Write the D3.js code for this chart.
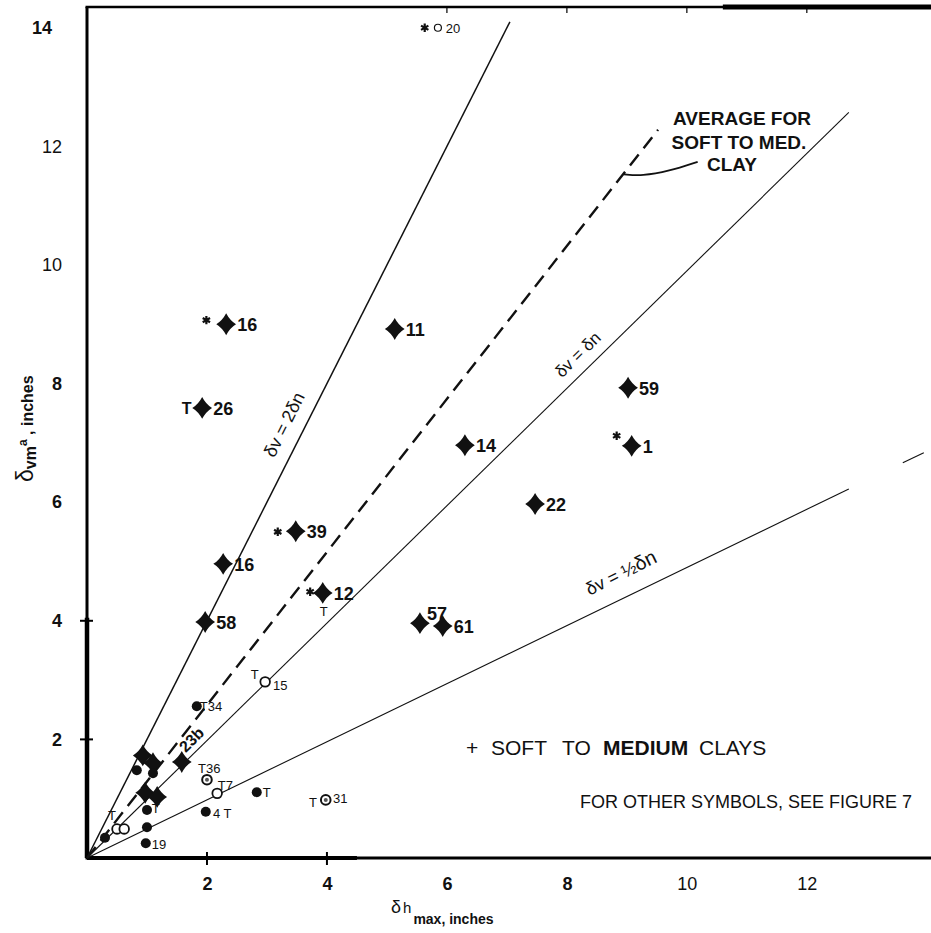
<!DOCTYPE html>
<html>
<head>
<meta charset="utf-8">
<script src="https://cdn.jsdelivr.net/npm/d3@7"></script>
<style>
  body { margin: 0; background: #fff; }
  svg text { font-family: "Liberation Sans", Arial, sans-serif; fill: #111; }
</style>
</head>
<body>
<div id="chart"></div>
<script>
// ---------------------------//
//   VALUES   //
// ---------------------------//

var xTicks = [2, 4, 6, 8, 10, 12];
var yTicks = [2, 4, 6, 8, 10, 12, 14];
var xAxisMarks = [2, 4];
var yAxisMarks = [2, 4];
var topMarks = [6, 8, 10, 12];

// soft to medium clays (+): [dh max, dv max, case no.]
var clays = [
  [2.32, 9.00, "16"], [5.13, 8.92, "11"], [1.92, 7.59, "26"],
  [9.02, 7.93, "59"], [6.30, 6.96, "14"], [9.08, 6.95, "1"],
  [7.47, 5.97, "22"], [3.48, 5.51, "39"], [2.27, 4.96, "16"],
  [3.93, 4.47, "12"], [1.97, 3.98, "58"], [5.55, 3.96, "57"],
  [5.93, 3.91, "61"], [1.58, 1.62, ""], [0.93, 1.73, ""],
  [1.10, 1.60, ""], [0.97, 1.10, ""], [1.17, 1.03, ""]
];

// other symbols (see figure 7)
var asterisks = [[1.99, 9.07], [3.18, 5.50], [3.72, 4.49], [8.83, 7.12], [5.63, 14.0]];
var dots = [[1.83, 2.56], [2.83, 1.11], [1.98, 0.78], [0.98, 0.25], [1.00, 0.52],
            [1.00, 0.81], [0.83, 1.48], [1.10, 1.43], [0.30, 0.34]];
var rings = [[2.97, 2.97], [2.17, 1.09], [0.50, 0.49], [0.62, 0.49]];
var smallRings = [[5.85, 14.0]];
var halfRings = [[2.00, 1.32], [3.98, 0.98]];

// small lettering next to the symbols: [dh, dv, text]
var notes = [
  [3.88, 4.08, "T"], [2.73, 3.02, "T"], [3.10, 2.83, "15"],
  [1.88, 2.48, "T34"], [1.85, 1.43, "T36"], [2.18, 1.15, "T7"],
  [2.93, 1.03, "T"], [2.10, 0.67, "4 T"], [3.70, 0.86, "T"],
  [4.10, 0.93, "31"], [1.08, 0.76, "T"], [0.35, 0.64, "T"],
  [1.08, 0.15, "19"], [5.98, 13.91, "20"]
];
var boldNotes = [[1.58, 7.49, "T"]];

// reference lines: [slope, dh start, dh end]
var refLines = [[2.0, 0, 7.05], [0.99, 0, 12.7], [0.49, 0, 12.7], [0.49, 13.6, 13.95]];
var avgLine = [1.29, 0, 9.52];
var leader = [[8.95, 11.53], [9.25, 11.50], [9.70, 11.58], [10.18, 11.74]];

// ---------------------------//
//       AXIS  AND SCALE      //
// ---------------------------//

var svg = d3.select("#chart").append("svg")
  .attr("width", 931).attr("height", 933);

var x = d3.scaleLinear().domain([0, 14.07]).range([87, 931]);
var y = d3.scaleLinear().domain([0, 14.35]).range([858, 7]);

// frame: left axis, bottom axis, top border
svg.append("line").attr("x1", x(0)).attr("x2", x(0)).attr("y1", y(14.35)).attr("y2", y(0))
  .attr("stroke", "#000").attr("stroke-width", 3);
svg.append("line").attr("x1", x(0)).attr("x2", x(0)).attr("y1", y(4.05)).attr("y2", y(0))
  .attr("stroke", "#000").attr("stroke-width", 4.5);
svg.append("line").attr("x1", x(0) - 1.5).attr("x2", x(14.07)).attr("y1", y(0)).attr("y2", y(0))
  .attr("stroke", "#000").attr("stroke-width", 3);
svg.append("line").attr("x1", x(0)).attr("x2", x(4.5)).attr("y1", y(0)).attr("y2", y(0))
  .attr("stroke", "#000").attr("stroke-width", 4);
svg.append("line").attr("x1", x(0) - 1.5).attr("x2", x(14.07)).attr("y1", y(14.35)).attr("y2", y(14.35))
  .attr("stroke", "#000").attr("stroke-width", 2.5);
svg.append("line").attr("x1", x(10.6)).attr("x2", x(14.07)).attr("y1", y(14.35)).attr("y2", y(14.35))
  .attr("stroke", "#000").attr("stroke-width", 5);

svg.selectAll(".xmark").data(xAxisMarks).enter().append("line")
  .attr("x1", function(d) { return x(d); }).attr("x2", function(d) { return x(d); })
  .attr("y1", y(0) - 6).attr("y2", y(0) + 7)
  .attr("stroke", "#000").attr("stroke-width", 2);
svg.selectAll(".ymark").data(yAxisMarks).enter().append("line")
  .attr("x1", x(0) - 7).attr("x2", x(0) + 6)
  .attr("y1", function(d) { return y(d); }).attr("y2", function(d) { return y(d); })
  .attr("stroke", "#000").attr("stroke-width", 2);
svg.selectAll(".tmark").data(topMarks).enter().append("line")
  .attr("x1", function(d) { return x(d); }).attr("x2", function(d) { return x(d); })
  .attr("y1", y(14.35)).attr("y2", y(14.35) + 6)
  .attr("stroke", "#000").attr("stroke-width", 1.2);

// tick labels through d3 axes, domain path removed
var xAxis = svg.append("g").attr("transform", "translate(0," + y(0) + ")")
  .call(d3.axisBottom(x).tickValues(xTicks).tickSize(0).tickPadding(19));
var yAxis = svg.append("g").attr("transform", "translate(" + x(0) + ",0)")
  .call(d3.axisLeft(y).tickValues(yTicks).tickSize(0).tickPadding(25));
[xAxis, yAxis].forEach(function(g) {
  g.select(".domain").remove();
  g.selectAll("text")
    .style("font-size", "18px")
    .style("font-family", "'Liberation Sans', Arial, sans-serif")
    .style("font-weight", function(d) { return (d === 10 || d === 12) ? "normal" : "bold"; })
    .attr("fill", "#111");
});
yAxis.selectAll("text").filter(function(d) { return d === 14; }).attr("dx", -10);

// axis titles
var xt = svg.append("text").attr("x", 391).attr("y", 913).style("font-size", "18px");
xt.append("tspan").text("δ");
xt.append("tspan").attr("dx", 2).style("font-size", "15px").text("h");
xt.append("tspan").attr("dy", 11).attr("dx", 2).style("font-size", "14px").style("font-weight", "bold").text("max, inches");

var yt = svg.append("text").attr("transform", "translate(33,482) rotate(-90)").style("font-size", "23px");
yt.append("tspan").text("δ");
yt.append("tspan").attr("dy", 3).style("font-size", "16px").style("font-weight", "bold").text("v");
yt.append("tspan").style("font-size", "16px").style("font-weight", "bold").text("m");
yt.append("tspan").attr("dy", -9).style("font-size", "12px").style("font-weight", "bold").text("a");
yt.append("tspan").attr("dy", 6).style("font-size", "16px").style("font-weight", "bold").text(" , inches");

// ---------------------------//
//       REFERENCE LINES      //
// ---------------------------//

svg.selectAll(".ref").data(refLines).enter().append("line")
  .attr("x1", function(d) { return x(d[1]); }).attr("y1", function(d) { return y(d[0] * d[1]); })
  .attr("x2", function(d) { return x(d[2]); }).attr("y2", function(d) { return y(d[0] * d[2]); })
  .attr("stroke", "#111")
  .attr("stroke-width", function(d, i) { return i === 0 ? 1.5 : 1.1; });

svg.append("line")
  .attr("x1", x(avgLine[1])).attr("y1", y(avgLine[0] * avgLine[1]))
  .attr("x2", x(avgLine[2])).attr("y2", y(avgLine[0] * avgLine[2]))
  .attr("stroke", "#111").attr("stroke-width", 2.4)
  .attr("stroke-dasharray", "14,8");

svg.append("path")
  .attr("d", d3.line().x(function(d) { return x(d[0]); }).y(function(d) { return y(d[1]); })
    .curve(d3.curveBasis)(leader))
  .attr("fill", "none").attr("stroke", "#111").attr("stroke-width", 1.8);

// rotated line captions
function caption(h, v, ang, parts) {
  var t = svg.append("text")
    .attr("transform", "translate(" + x(h) + "," + y(v) + ") rotate(" + ang + ")")
    .attr("text-anchor", "middle").style("font-size", "17px");
  parts.forEach(function(p) {
    t.append("tspan").attr("dy", p[1]).style("font-size", p[2]).text(p[0]);
  });
}
caption(3.38, 7.26, -63.5, [["δv = 2δn", 0, "18px"]]);
caption(8.25, 8.42, -44.7, [["δv = δn", 0, "17px"]]);
caption(8.95, 4.71, -26.3, [["δv = ", 0, "18px"], ["½", 0, "18px"], ["δn", 0, "20px"]]);

svg.append("text")
  .attr("transform", "translate(" + x(1.75) + "," + y(1.99) + ") rotate(-45)")
  .attr("text-anchor", "middle").attr("dy", 5)
  .style("font-size", "16px").style("font-weight", "bold").text("23b");

// ---------------------------//
//       SYMBOLS              //
// ---------------------------//

var clayStar = {
  draw: function(ctx, size) {
    var r = Math.sqrt(size), w = r * 0.9, k = r * 0.34;
    ctx.moveTo(0, -r);
    ctx.quadraticCurveTo(k, -k, w, 0);
    ctx.quadraticCurveTo(k, k, 0, r);
    ctx.quadraticCurveTo(-k, k, -w, 0);
    ctx.quadraticCurveTo(-k, -k, 0, -r);
    ctx.closePath();
  }
};
var asteriskShape = {
  draw: function(ctx, size) {
    var r = Math.sqrt(size);
    for (var a = 0; a < 3; a++) {
      var t = Math.PI / 2 + a * Math.PI / 3;
      ctx.moveTo(-r * Math.cos(t), -r * Math.sin(t));
      ctx.lineTo(r * Math.cos(t), r * Math.sin(t));
    }
  }
};

svg.selectAll(".clay").data(clays).enter().append("path")
  .attr("transform", function(d) { return "translate(" + x(d[0]) + "," + y(d[1]) + ")"; })
  .attr("d", d3.symbol().type(clayStar).size(120))
  .attr("fill", "#111");

svg.selectAll(".claylab").data(clays.filter(function(d) { return d[2]; })).enter().append("text")
  .attr("x", function(d) { return x(d[0]) + (d[2] === "57" ? 7 : 11); })
  .attr("y", function(d) { return y(d[1]) + (d[2] === "57" ? -3 : 7); })
  .style("font-size", "18px").style("font-weight", "bold")
  .text(function(d) { return d[2]; });

svg.selectAll(".ast").data(asterisks).enter().append("path")
  .attr("transform", function(d) { return "translate(" + x(d[0]) + "," + y(d[1]) + ")"; })
  .attr("d", d3.symbol().type(asteriskShape).size(18))
  .attr("stroke", "#111").attr("stroke-width", 2.2).attr("fill", "none");

svg.selectAll(".dot").data(dots).enter().append("circle")
  .attr("cx", function(d) { return x(d[0]); }).attr("cy", function(d) { return y(d[1]); })
  .attr("r", 5).attr("fill", "#111");

svg.selectAll(".ring").data(rings).enter().append("circle")
  .attr("cx", function(d) { return x(d[0]); }).attr("cy", function(d) { return y(d[1]); })
  .attr("r", 4.8).attr("fill", "#fff").attr("stroke", "#111").attr("stroke-width", 1.8);

svg.selectAll(".sring").data(smallRings).enter().append("circle")
  .attr("cx", function(d) { return x(d[0]); }).attr("cy", function(d) { return y(d[1]); })
  .attr("r", 3.5).attr("fill", "#fff").attr("stroke", "#111").attr("stroke-width", 1.2);

var hr = svg.selectAll(".hring").data(halfRings).enter().append("g")
  .attr("transform", function(d) { return "translate(" + x(d[0]) + "," + y(d[1]) + ")"; });
hr.append("circle").attr("r", 4.8).attr("fill", "#fff").attr("stroke", "#111").attr("stroke-width", 2);
hr.append("circle").attr("r", 2).attr("fill", "#555");

svg.selectAll(".note").data(notes).enter().append("text")
  .attr("x", function(d) { return x(d[0]); }).attr("y", function(d) { return y(d[1]); })
  .style("font-size", "13px")
  .text(function(d) { return d[2]; });
svg.selectAll(".bnote").data(boldNotes).enter().append("text")
  .attr("x", function(d) { return x(d[0]); }).attr("y", function(d) { return y(d[1]); })
  .style("font-size", "16px").style("font-weight", "bold")
  .text(function(d) { return d[2]; });

// ---------------------------//
//       LEGEND / NOTES       //
// ---------------------------//

var avg = svg.append("text").attr("text-anchor", "middle")
  .style("font-size", "19px").style("font-weight", "bold");
avg.append("tspan").attr("x", 742).attr("y", 125).text("AVERAGE FOR");
avg.append("tspan").attr("x", 739).attr("y", 149).text("SOFT TO MED.");
avg.append("tspan").attr("x", 732).attr("y", 171).text("CLAY");

var leg = svg.append("text").attr("y", 755).style("font-size", "21px");
leg.append("tspan").attr("x", 466).text("+");
leg.append("tspan").attr("x", 491).text("SOFT");
leg.append("tspan").attr("x", 562).text("TO");
leg.append("tspan").attr("x", 603).style("font-weight", "bold").text("MEDIUM");
leg.append("tspan").attr("x", 699).text("CLAYS");

svg.append("text").attr("x", 580).attr("y", 808).style("font-size", "18px")
  .text("FOR OTHER SYMBOLS, SEE FIGURE 7");
</script>
</body>
</html>
